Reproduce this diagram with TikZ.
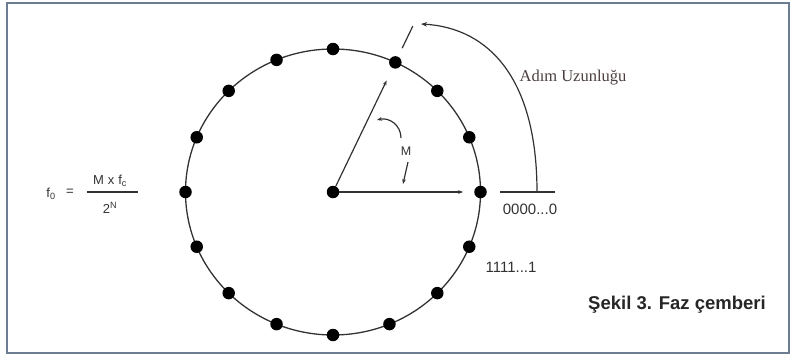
\documentclass[tikz,border=0pt]{standalone}
\usepackage{fontspec}
\setmainfont{Liberation Serif}
\setsansfont{Liberation Sans}
\usetikzlibrary{calc, positioning}
\usetikzlibrary{arrows.meta}

\definecolor{framecol}{RGB}{108,124,146}
\definecolor{linecol}{RGB}{50,50,50}

\tikzset{
  phasedot/.style={circle, fill=black, inner sep=0pt, minimum size=12.5pt},
  lbl/.style={font=\sffamily\fontsize{15}{17}\selectfont, text=linecol, inner sep=0pt},
  conn/.style={draw=linecol, line width=1.2pt},
}

\begin{document}
\begin{tikzpicture}[x=1pt, y=-1pt]
\useasboundingbox (0,0) rectangle (794,359);
\def\rx{147.5}
\def\ry{143}
\coordinate (O) at (333,192);
\coordinate (zl) at (500,192);
\coordinate (zr) at (555,192);
\coordinate (zs) at (537,192);
\coordinate (stepend) at (421,24);
\coordinate (mhi) at (401,138);
\coordinate (mhe) at (377,120);
\coordinate (mlo) at (408,162);
\coordinate (mle) at (403,184);

\draw[framecol, line width=1.8pt] (7,3) rectangle (789,353);
\draw[linecol, line width=1.3pt] (O) ellipse [x radius=\rx, y radius=\ry];

\node[phasedot] (c) at (O) {};
\foreach \a [count=\i from 0] in {0,22.5,45,65,90,112.5,135,157.5,180,202.5,225,247.5,270,292.5,315,337.5}
  \node[phasedot] (d\i) at ($(O)+({\rx*cos(\a)},{-\ry*sin(\a)})$) {};

\draw[conn, -{Stealth[length=5pt]}] (c) -- (d0) [shorten >=11pt];
\draw[conn, -{Stealth[length=5pt]}] (c) -- ($(c)!0.86!(d3)$);
\draw[conn] ($(c)!1.11!(d3)$) -- ($(c)!1.28!(d3)$);

\draw[conn, line width=1.7pt] (zl) -- (zr);
\draw[conn, -{Stealth[length=6pt]}] (zs) .. controls +(0,-112) and +(69,4) .. (stepend);

\draw[conn, -{Stealth[length=5pt]}] (mhi) .. controls +(0,-13) and +(12,-3) .. (mhe);
\draw[conn, -{Stealth[length=5pt]}] (mlo) -- (mle);
\node[lbl, font=\sffamily\fontsize{12.5}{14}\selectfont] (mlabel) at (406,151) {M};

\node[lbl, font=\rmfamily\fontsize{16.5}{18}\selectfont, text={rgb,255:red,75;green,62;blue,62}] (adim) at (573,78) {Adım Uzunluğu};
\node[lbl] (zeros) at (530,209) {0000...0};
\node[lbl] (ones) at (511,267) {1111...1};

\node[lbl, font=\sffamily\fontsize{13}{15}\selectfont] (fout) at (51,194) {f\textsubscript{0}};
\node[lbl, font=\sffamily\fontsize{13}{15}\selectfont] (eq) at (70,192) {=};
\node[lbl, font=\sffamily\fontsize{13}{15}\selectfont] (num) at (110,181) {M\hspace{4pt}x\hspace{4pt}f\textsubscript{c}};
\node[lbl, font=\sffamily\fontsize{13}{15}\selectfont] (den) at (110,208) {2\textsuperscript{N}};
\draw[conn] (87,192) -- (138,192);

\node[lbl, font=\sffamily\bfseries\fontsize{18.5}{21}\selectfont, text=black!85] (caption) at (677,305) {Şekil 3. Faz çemberi};
\end{tikzpicture}
\end{document}
